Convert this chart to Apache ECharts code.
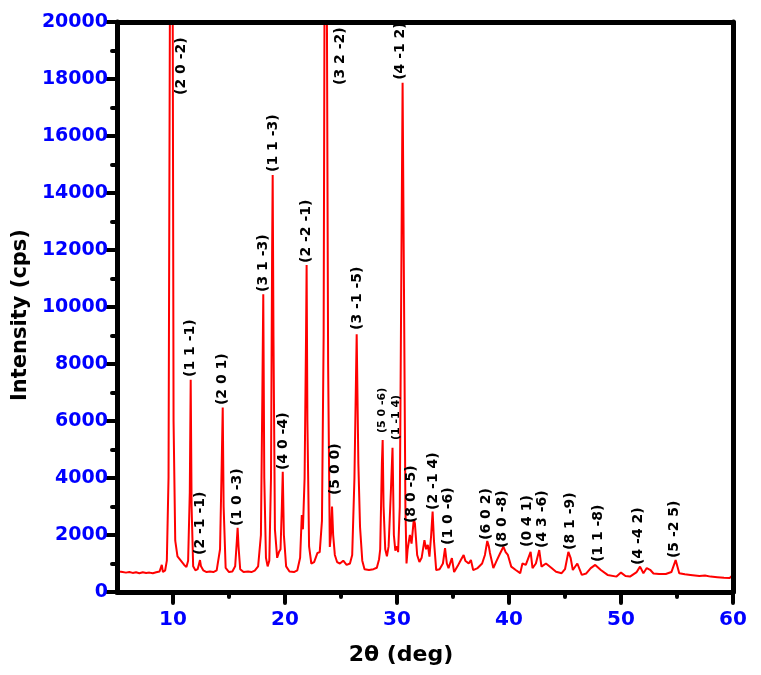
<!DOCTYPE html>
<html>
<head>
<meta charset="utf-8">
<script src="https://cdn.jsdelivr.net/npm/echarts@6/dist/echarts.min.js"></script>
<style>
html,body{margin:0;padding:0;background:#fff;}
#chart{width:761px;height:675px;}
</style>
</head>
<body>
<div id="chart"></div>
<script>
// ---- Data ----
// 2θ (deg) positions of the traced pattern
const twoTheta = [
  5.0,5.2,5.5,5.8,6.1,6.4,6.7,7.0,7.3,7.6,7.9,8.2,8.5,8.8,9.0,9.1,9.3,9.45,9.6,9.75,9.85,9.95,10.05,10.2,10.4,10.7,11.0,11.2,11.35,11.5,11.58,11.66,11.8,12.0,12.2,12.3,12.41,12.5,12.7,13.0,13.3,13.6,13.9,14.2,14.35,14.44,14.52,14.7,15.0,15.3,15.55,15.7,15.77,15.85,16.0,16.3,16.7,17.0,17.3,17.6,17.85,17.98,18.06,18.15,18.3,18.45,18.6,18.75,18.85,18.9,18.97,19.1,19.3,19.46,19.6,19.72,19.8,19.9,20.1,20.4,20.8,21.1,21.35,21.5,21.6,21.75,21.88,21.93,22.0,22.15,22.35,22.6,22.9,23.1,23.3,23.45,23.55,23.7,23.85,24.0,24.1,24.2,24.3,24.45,24.65,24.9,25.2,25.5,25.8,26.0,26.2,26.4,26.55,26.7,26.9,27.1,27.5,27.9,28.2,28.4,28.5,28.65,28.72,28.8,28.95,29.1,29.25,29.45,29.6,29.72,29.85,30.0,30.1,30.25,30.4,30.5,30.6,30.75,30.85,30.95,31.15,31.3,31.5,31.6,31.8,32.0,32.2,32.45,32.6,32.75,32.9,33.05,33.18,33.3,33.5,33.8,34.1,34.29,34.45,34.6,34.9,35.1,35.4,35.7,35.95,36.1,36.4,36.6,36.8,37.2,37.6,37.85,38.06,38.2,38.3,38.6,38.9,39.2,39.5,39.7,39.9,40.2,40.6,41.0,41.2,41.5,41.93,42.1,42.4,42.7,42.9,43.3,43.8,44.2,44.7,45.0,45.3,45.5,45.7,46.1,46.5,46.9,47.3,47.7,48.2,48.8,49.6,50.0,50.4,50.8,51.4,51.7,52.0,52.3,52.6,52.9,53.4,54.0,54.5,54.88,55.2,55.7,56.2,57.0,57.5,58.0,58.6,59.2,59.7,60.0
];
// Intensity (cps) at each 2θ above
const intensity = [
  820,720,700,680,700,670,690,660,690,670,680,660,690,720,950,700,760,1100,4000,24000,26000,25000,6000,1800,1250,1100,950,880,1100,3500,7450,3000,900,760,800,950,1120,900,760,700,720,700,760,1500,4500,6470,3000,850,700,720,900,1800,2250,1600,800,700,720,700,750,900,2000,7000,10450,4000,1200,900,1100,4000,12000,14630,9000,2200,1200,1400,1500,3000,4220,2000,900,720,700,760,1200,2700,2200,4000,9000,11470,6000,1600,1000,1050,1370,1400,2500,9000,24000,25000,8000,1580,2000,3000,2000,1300,1050,1000,1100,950,1000,1300,4000,9040,4500,2280,1100,800,770,800,850,1150,1500,4500,5330,3000,1500,1250,1600,3500,5060,2000,1450,1600,1400,3000,12000,17870,12000,3000,1000,1500,2000,1700,2550,2400,1300,1050,1200,1820,1500,1650,1240,2000,2820,1800,770,800,1000,1540,1000,840,1190,700,900,1120,1300,1100,1000,1120,770,840,1000,1300,1790,1600,1370,840,1100,1350,1590,1400,1300,890,770,660,1000,950,1410,840,1000,1470,890,1000,840,710,660,800,1410,1200,770,1000,600,650,840,950,770,600,540,680,560,540,700,890,660,840,780,650,630,630,700,1120,660,620,600,560,580,540,520,500,490,600
];
// Peak (hkl) annotations: base point of each vertical label
const peakLabels = [
  '(2 0 -2)','(3 2 -2)','(1 1 -3)','(4 -1 2)','(1 1 -1)','(2 0 1)','(3 1 -3)','(2 -2 -1)','(3 -1 -5)',
  '(2 -1 -1)','(1 0 -3)','(4 0 -4)','(5 0 0)','(5 0 -6)','(1 -1 4)','(8 0 -5)','(2 -1 4)','(1 0 -6)',
  '(6 0 2)','(8 0 -8)','(0 4 1)','(4 3 -6)','(8 1 -9)','(1 1 -8)','(4 -4 2)','(5 -2 5)'
];
const peakLabelX = [
  10.71,24.97,18.93,30.27,11.52,14.38,18.04,21.88,26.43,
  12.41,15.71,19.82,24.46,28.66,29.91,31.25,33.21,34.55,
  37.95,39.38,41.6,42.95,45.45,47.95,51.52,54.73
];
const peakLabelY = [
  17440,17790,14740,17970,7545,6560,10530,11545,9195,
  1300,2316,4280,3400,5580,5330,2420,2880,1650,
  1825,1545,1580,1545,1474,1050,950,1190
];
// Axis ticks
const xMajorTicks = [10,20,30,40,50,60];
const xMinorTicks = [15,25,35,45,55];

// ---- Build options ----
const smallLabelSet = new Set(['(5 0 -6)','(1 -1 4)']);
const lineData = twoTheta.map((x, i) => [x, intensity[i]]);
const labelData = peakLabels.map((t, i) => [peakLabelX[i], peakLabelY[i], t]);

const FONT = '"DejaVu Sans", Arial, sans-serif';
const chart = echarts.init(document.getElementById('chart'), null, {renderer: 'canvas'});
const option = {
  animation: false,
  backgroundColor: '#ffffff',
  grid: {left: 117, right: 28, top: 22, bottom: 83, containLabel: false, outerBoundsMode: 'none'},
  xAxis: [
    {
      type: 'value', min: 5, max: 60, position: 'bottom', z: 10,
      name: '2θ (deg)', nameLocation: 'middle', nameGap: 52,
      nameTextStyle: {fontFamily: FONT, fontWeight: 'bold', fontSize: 22, color: '#000', padding: [0, 48, 0, 0]},
      axisLine: {show: true, onZero: false, lineStyle: {color: '#000', width: 5}},
      axisTick: {show: true, customValues: xMajorTicks, length: 11, lineStyle: {color: '#000', width: 4, cap: 'round'}},
      axisLabel: {show: true, customValues: xMajorTicks, margin: 18, fontFamily: FONT, fontWeight: 'bold', fontSize: 20, color: '#0000ff'},
      splitLine: {show: false}
    },
    {
      type: 'value', min: 5, max: 60, position: 'bottom', z: 10,
      axisLine: {show: false},
      axisTick: {show: true, customValues: xMinorTicks, length: 5, lineStyle: {color: '#000', width: 4, cap: 'round'}},
      axisLabel: {show: false},
      splitLine: {show: false}
    },
    {
      type: 'value', min: 5, max: 60, position: 'top', z: 10,
      axisLine: {show: true, onZero: false, lineStyle: {color: '#000', width: 5}},
      axisTick: {show: false}, axisLabel: {show: false}, splitLine: {show: false}
    }
  ],
  yAxis: [
    {
      type: 'value', min: 0, max: 20000, interval: 2000, position: 'left', z: 10,
      name: 'Intensity (cps)', nameLocation: 'middle', nameGap: 82, nameRotate: 90,
      nameTextStyle: {fontFamily: FONT, fontWeight: 'bold', fontSize: 21, color: '#000', padding: [0, 16, 0, 0]},
      axisLine: {show: true, onZero: false, lineStyle: {color: '#000', width: 5}},
      axisTick: {show: true, length: 10, lineStyle: {color: '#000', width: 4, cap: 'round'}},
      minorTick: {show: true, splitNumber: 2, length: 5, lineStyle: {color: '#000', width: 4, cap: 'round'}},
      axisLabel: {show: true, margin: 9, fontFamily: FONT, fontWeight: 'bold', fontSize: 19, color: '#0000ff',
        formatter: function (v) { return String(v); }},
      splitLine: {show: false}
    },
    {
      type: 'value', min: 0, max: 20000, position: 'right', z: 10,
      axisLine: {show: true, onZero: false, lineStyle: {color: '#000', width: 5}},
      axisTick: {show: false}, axisLabel: {show: false}, splitLine: {show: false}
    }
  ],
  series: [
    {
      type: 'line', xAxisIndex: 0, yAxisIndex: 0, data: lineData,
      showSymbol: false, symbol: 'none', clip: true,
      lineStyle: {color: '#ff0000', width: 2}, z: 3
    },
    {
      type: 'custom', xAxisIndex: 0, yAxisIndex: 0, data: labelData, clip: false, z: 5,
      encode: {x: 0, y: 1},
      renderItem: function (params, api) {
        const p = api.coord([api.value(0), api.value(1)]);
        const txt = peakLabels[params.dataIndex];
        const size = smallLabelSet.has(txt) ? 11 : 14;
        return {
          type: 'text', x: p[0], y: p[1], rotation: Math.PI / 2,
          style: {text: txt, fill: '#000', font: 'bold ' + size + 'px ' + FONT, align: 'left', verticalAlign: 'middle'}
        };
      }
    }
  ]
};
chart.setOption(option);
</script>
</body>
</html>
